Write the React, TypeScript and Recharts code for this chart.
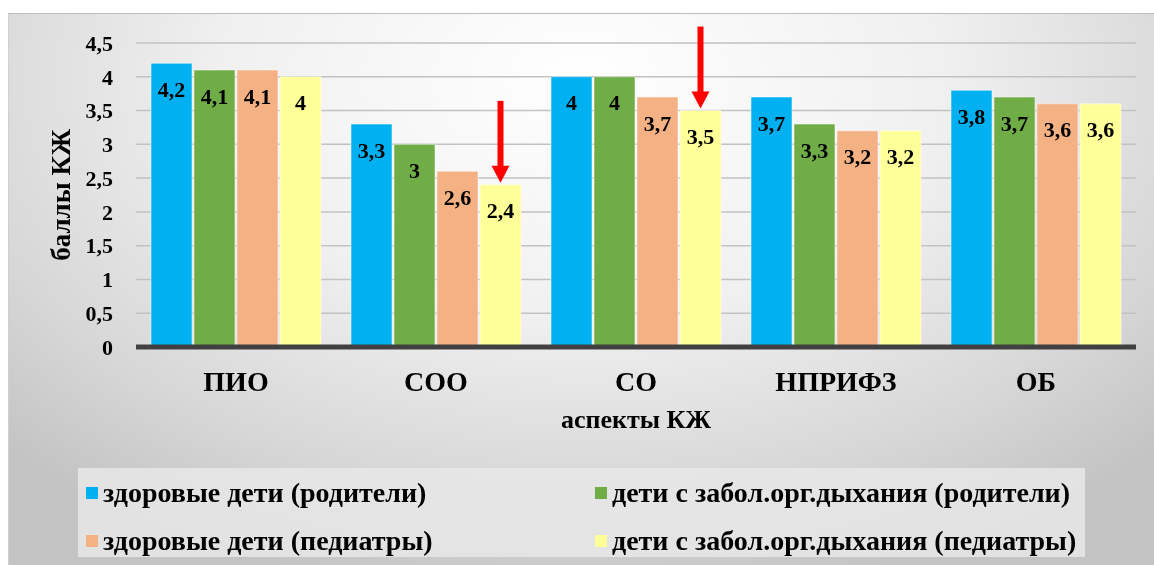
import React from "react";
import { BarChart, Bar, XAxis, YAxis, CartesianGrid, LabelList, Label } from "recharts";

const aspects = ["ПИО", "СОО", "СО", "НПРИФЗ", "ОБ"];
const healthyParents = [4.2, 3.3, 4.0, 3.7, 3.8];
const sickParents = [4.1, 3.0, 4.0, 3.3, 3.7];
const healthyPediatr = [4.1, 2.6, 3.7, 3.2, 3.6];
const sickPediatr = [4.0, 2.4, 3.5, 3.2, 3.6];
const yTicks = [0, 0.5, 1, 1.5, 2, 2.5, 3, 3.5, 4, 4.5];
const markedAspects = ["СОО", "СО"];

const series = [
  { key: "hp", name: "здоровые дети (родители)", color: "#00B0F0" },
  { key: "sp", name: "дети с забол.орг.дыхания (родители)", color: "#70AD47" },
  { key: "hd", name: "здоровые дети (педиатры)", color: "#F4B183" },
  { key: "sd", name: "дети с забол.орг.дыхания (педиатры)", color: "#FFFF99" },
];

const data = aspects.map((a, i) => ({
  aspect: a,
  hp: healthyParents[i],
  sp: sickParents[i],
  hd: healthyPediatr[i],
  sd: sickPediatr[i],
}));

const font = "'Liberation Serif', 'Times New Roman', serif";
const comma = (v: number | string) => String(v).replace(".", ",");

// red arrow over the yellow bar of the marked groups
const Arrow = (props: any) => {
  const { x, y, width, index } = props;
  if (!markedAspects.includes(aspects[index])) return null;
  const cx = x + width / 2;
  const tip = y - 2;
  const head = 17;
  const len = 82;
  return (
    <g>
      <rect x={cx - 3} y={tip - len} width={6} height={len - head + 1} fill="#FF0000" />
      <polygon points={`${cx - 9},${tip - head} ${cx + 9},${tip - head} ${cx},${tip}`} fill="#FF0000" />
    </g>
  );
};

const App: React.FC = () => {
  return (
    <div
      style={{
        position: "fixed",
        left: 8,
        top: 13,
        width: 1146,
        height: 552,
        borderTop: "1px solid #bdbdbd",
        borderLeft: "1px solid #cfcfcf",
        boxSizing: "border-box",
        background: "radial-gradient(ellipse 70% 95% at 50% 12%, #ffffff 0%, #f0f0f0 45%, #d6d6d6 80%, #c4c4c4 100%)",
        fontFamily: font,
      }}
    >
      <BarChart
        width={1146}
        height={552}
        data={data}
        margin={{ top: 30, right: 18, left: 20, bottom: 137 }}
        barCategoryGap="7.5%"
        barGap={2}
        style={{ position: "absolute", left: -1, top: -1 }}
      >
        <CartesianGrid vertical={false} stroke="#c2c2c2" strokeWidth={1.5} />
        <XAxis
          dataKey="aspect"
          height={81}
          tickLine={false}
          axisLine={{ stroke: "#404040", strokeWidth: 5 }}
          tickMargin={18}
          tick={{ fontFamily: font, fontWeight: "bold", fontSize: 28, fill: "#000" }}
        >
          <Label
            value="аспекты КЖ"
            position="insideBottom"
            offset={0}
            style={{ fontFamily: font, fontWeight: "bold", fontSize: 26, fill: "#000" }}
          />
        </XAxis>
        <YAxis
          width={108}
          domain={[0, 4.5]}
          ticks={yTicks}
          interval={0}
          tickLine={false}
          axisLine={false}
          tickSize={6}
          tickMargin={17}
          tickFormatter={comma}
          tick={{ fontFamily: font, fontWeight: "bold", fontSize: 22, fill: "#000" }}
        >
          <Label
            value="баллы КЖ"
            angle={-90}
            position="insideLeft"
            offset={32}
            style={{ fontFamily: font, fontWeight: "bold", fontSize: 27, fill: "#000", textAnchor: "middle" }}
          />
        </YAxis>
        {series.map((s) => (
          <Bar
            key={s.key}
            dataKey={s.key}
            name={s.name}
            fill={s.color}
            stroke="#ffffff"
            strokeOpacity={0.5}
            strokeWidth={1}
            isAnimationActive={false}
          >
            <LabelList
              dataKey={s.key}
              position="insideTop"
              offset={18}
              formatter={comma}
              style={{ fontFamily: font, fontWeight: "bold", fontSize: 22, fill: "#000" }}
            />
            {s.key === "sd" && <LabelList dataKey={s.key} content={Arrow} />}
          </Bar>
        ))}
      </BarChart>
      <div
        style={{
          position: "absolute",
          left: 69,
          top: 454,
          width: 1007,
          height: 89,
          background: "rgba(232,232,232,0.85)",
        }}
      >
        {series.map((s, i) => (
          <div
            key={s.key}
            style={{
              position: "absolute",
              left: i % 2 === 0 ? 8 : 517,
              top: i < 2 ? 25 : 73,
              transform: "translateY(-50%)",
              display: "flex",
              alignItems: "center",
              whiteSpace: "nowrap",
              fontWeight: "bold",
              fontSize: 28,
              color: "#000",
            }}
          >
            <span style={{ display: "inline-block", width: 12, height: 12, background: s.color, marginRight: 5 }} />
            {s.name}
          </div>
        ))}
      </div>
    </div>
  );
};

export default App;
